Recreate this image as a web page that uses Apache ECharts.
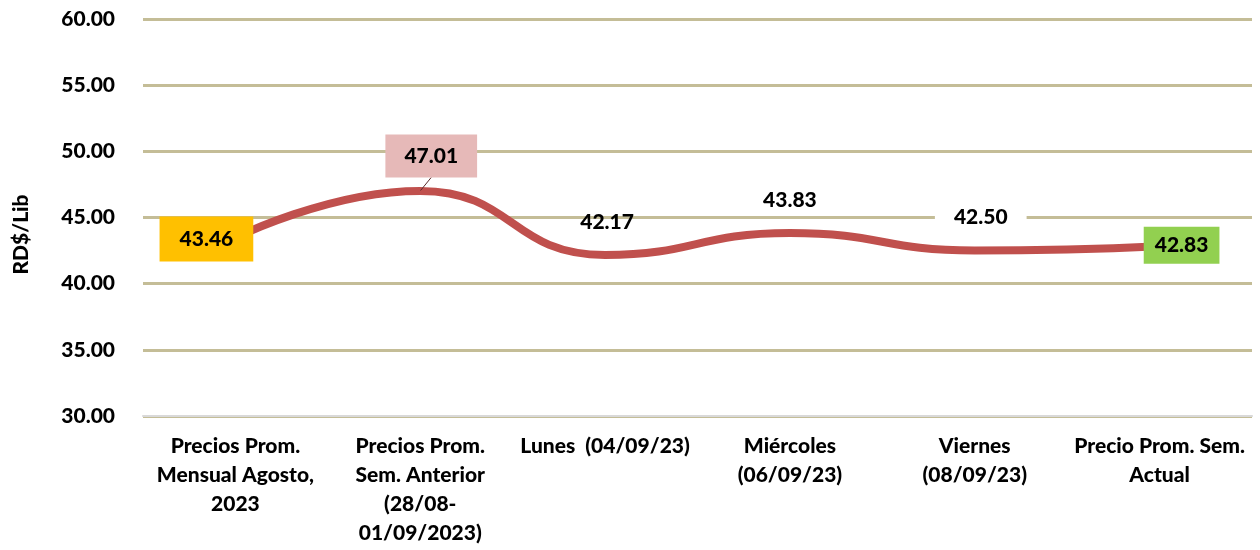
<!DOCTYPE html>
<html>
<head>
<meta charset="utf-8">
<script src="https://cdn.jsdelivr.net/npm/echarts@6/dist/echarts.min.js"></script>
<style>
  html, body { margin: 0; padding: 0; background: #fff; }
  #chart { width: 1260px; height: 550px; }
</style>
</head>
<body>
<div id="chart"></div>
<script>
// datos del gráfico
const categories = [
  'Precios Prom.\nMensual Agosto,\n2023',
  'Precios Prom.\nSem. Anterior\n(28/08-\n01/09/2023)',
  'Lunes  (04/09/23)',
  'Miércoles\n(06/09/23)',
  'Viernes\n(08/09/23)',
  'Precio Prom. Sem.\nActual',
];
const prices = [43.46, 47.01, 42.17, 43.83, 42.50, 42.83];

const FONT = 'Lato, "Open Sans", sans-serif';
const WEIGHT = 900;

// estilo de cada etiqueta (fondo y desplazamiento)
const labelStyles = [
  { bg: '#FFC000', offset: [-29, 1], padding: [12, 20] },
  { bg: '#E6B9B8', offset: [11, -35], padding: [11, 19], guide: true },
  { bg: 'transparent', offset: [2, -33], padding: [2, 4] },
  { bg: 'transparent', offset: [0, -33], padding: [2, 4] },
  { bg: '#FFFFFF', offset: [6, -33], padding: [3, 19] },
  { bg: '#92D050', offset: [22, -1], padding: [8, 11] },
];

const seriesData = prices.map((v, i) => {
  const s = labelStyles[i];
  return {
    value: v,
    label: {
      backgroundColor: s.bg,
      offset: s.offset,
      padding: s.padding,
    },
    labelLine: {
      show: !!s.guide,
      lineStyle: { color: '#5a2a2a', width: 1 },
    },
  };
});

const chart = echarts.init(document.getElementById('chart'));

const option = {
  animation: false,
  grid: {
    left: 143,
    right: 8,
    top: 19,
    bottom: 134,
  },
  xAxis: {
    type: 'category',
    data: categories,
    boundaryGap: true,
    axisTick: { show: false },
    axisLine: { lineStyle: { color: '#D9D9D9', width: 2 } },
    axisLabel: {
      interval: 0,
      margin: 16,
      color: '#000',
      fontFamily: FONT,
      fontWeight: WEIGHT,
      fontSize: 21,
      lineHeight: 29,
    },
  },
  yAxis: {
    type: 'value',
    min: 30,
    max: 60,
    interval: 5,
    name: 'RD$/Lib',
    nameLocation: 'middle',
    nameGap: 111,
    nameRotate: 90,
    nameTextStyle: {
      color: '#000',
      fontFamily: FONT,
      fontWeight: WEIGHT,
      fontSize: 21,
      padding: [0, 34, 0, 0],
    },
    axisLine: { show: false },
    axisTick: { show: false },
    axisLabel: {
      margin: 28,
      color: '#000',
      fontFamily: FONT,
      fontWeight: WEIGHT,
      fontSize: 21,
      formatter: (v) => v.toFixed(2),
    },
    splitLine: {
      lineStyle: { color: '#C4BD97', width: 3 },
    },
  },
  series: [
    {
      type: 'line',
      data: seriesData,
      smooth: 0.5,
      symbol: 'circle',
      symbolSize: 1,
      itemStyle: { color: 'rgba(0,0,0,0)' },
      lineStyle: { color: '#C0504D', width: 8 },
      label: {
        show: true,
        position: 'inside',
        color: '#000',
        fontFamily: FONT,
        fontWeight: WEIGHT,
        fontSize: 21,
        formatter: (p) => p.value.toFixed(2),
      },
      labelLine: { show: false },
      z: 3,
    },
  ],
};

chart.setOption(option);
</script>
</body>
</html>
